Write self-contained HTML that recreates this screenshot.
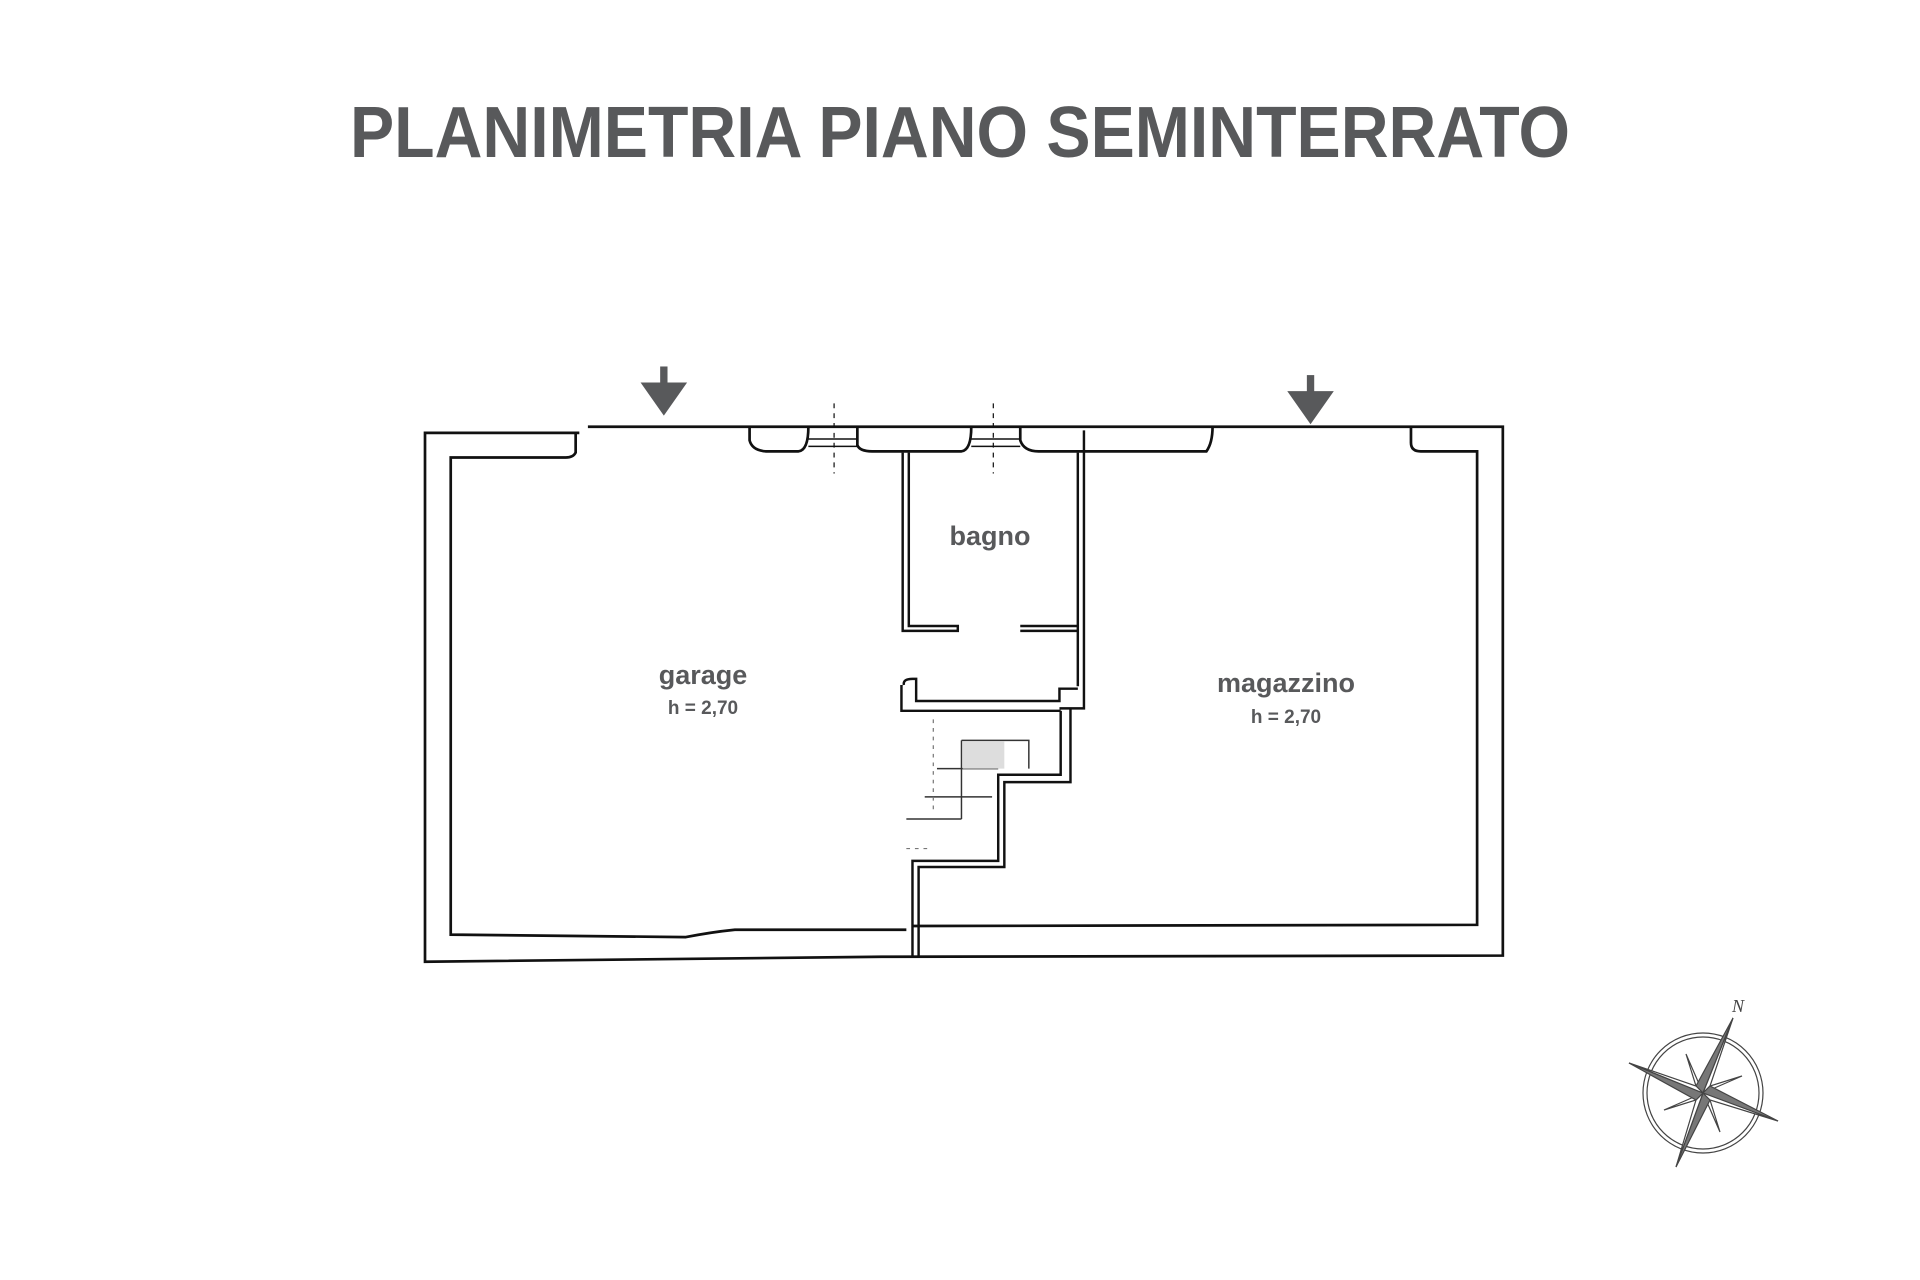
<!DOCTYPE html>
<html><head><meta charset="utf-8"><style>
html,body{margin:0;padding:0;background:#fff;}
svg{display:block}
</style></head><body>
<svg width="1920" height="1280" viewBox="0 0 1920 1280" xmlns="http://www.w3.org/2000/svg">
<rect width="1920" height="1280" fill="#fff"/>
<text x="960" y="157" text-anchor="middle" font-family="Liberation Sans, sans-serif" font-weight="bold" font-size="72" fill="#58595b" textLength="1220" lengthAdjust="spacingAndGlyphs">PLANIMETRIA PIANO SEMINTERRATO</text>
<g transform="scale(1.2248,1.2298)" fill="none" stroke="#111" stroke-width="2.2">
<path d="M473,352 L347,352 L347,782 L720,778 L1227,777 L1227,347 L480,347"/>
<path d="M470,352 L470,368 Q468,372 462,372 L368,372 L368,760 L560,762 Q580,758 600,756 L740,756"/>
<path d="M745,753 L1206,752 L1206,367 L1160,367 Q1152,367 1152,360 L1152,347"/>
<path d="M612,347 L612,358 Q614,366 625,367 L652,367 Q660,366 660,347"/>
<path d="M700,347 L700,362 Q702,367 712,367 L785,367 Q793,366 793,347"/>
<path d="M833,347 L833,358 Q836,367 848,367 L985,367 Q990,360 990,347"/>
<path d="M660,357 L700,357 M660,363 L700,363 M793,357 L833,357 M793,363 L833,363" stroke-width="1.2"/>
<path d="M681,328 L681,385 M811,328 L811,385" stroke-width="1" stroke-dasharray="4,4"/>
<path d="M737,368 L737,513 L782,513 L782,509 L742,509 L742,368" stroke-width="2"/>
<path d="M833,513 L880,513 M833,509 L880,509" stroke-width="2"/>
<path d="M880,368 L880,558 M885,350 L885,576 L865,576" stroke-width="2"/>
<path d="M738,557 Q737,552 745,552 L748,552 L748,570 L865,570 L865,560 L880,560 M736,557 L736,578 L866,578" stroke-width="2"/>
<path d="M866,578 L866,630 L815,630 L815,700 L745,700 L745,778 M874,576 L874,636 L820,636 L820,705 L750,705 L750,778" stroke-width="2"/>
<path d="M785,602 L840,602 L840,625 M785,602 L785,640 M765,625 L815,625 M755,648 L810,648 M740,666 L785,666 M785,640 L785,666" stroke-width="1.2" stroke="#333"/>
<path d="M762,585 L762,660 M740,690 L760,690" stroke-width="1" stroke="#777" stroke-dasharray="3,4"/>
<rect x="786" y="603" width="34" height="22" fill="#ddd" stroke="none"/>
<g fill="#58595b" stroke="none">
<rect x="539" y="298" width="6" height="14"/><path d="M523,311 L561,311 L542,338 Z"/>
<rect x="1067" y="305" width="6" height="14"/><path d="M1051,318 L1089,318 L1070,345 Z"/>
</g>
</g>
<g font-family="Liberation Sans, sans-serif" font-weight="bold" fill="#58595b" text-anchor="middle">
<text x="990" y="545" font-size="27">bagno</text>
<text x="703" y="684" font-size="27">garage</text>
<text x="703" y="714" font-size="19">h = 2,70</text>
<text x="1286" y="692" font-size="27">magazzino</text>
<text x="1286" y="723" font-size="19">h = 2,70</text>
</g>
<g transform="translate(-4,0)">
<g stroke="#444" stroke-width="1.2">
<circle cx="1707" cy="1093" r="60" fill="none"/>
<circle cx="1707" cy="1093" r="56" fill="none"/>
<path d="M1707,1093 L1690,1054 L1700,1086 Z M1707,1093 L1746,1076 L1714,1086 Z M1707,1093 L1724,1132 L1714,1100 Z M1707,1093 L1668,1110 L1700,1100 Z" fill="#fff"/>
<path d="M1737,1018 L1700,1086 L1707,1093 Z" fill="#777"/>
<path d="M1737,1018 L1714,1086 L1707,1093 Z" fill="#fff"/>
<path d="M1680,1167 L1714,1100 L1707,1093 Z" fill="#777"/>
<path d="M1680,1167 L1700,1100 L1707,1093 Z" fill="#fff"/>
<path d="M1633,1063 L1700,1100 L1707,1093 Z" fill="#777"/>
<path d="M1633,1063 L1700,1086 L1707,1093 Z" fill="#fff"/>
<path d="M1782,1121 L1714,1086 L1707,1093 Z" fill="#777"/>
<path d="M1782,1121 L1714,1100 L1707,1093 Z" fill="#fff"/>
</g>
<text x="1742" y="1012" font-family="Liberation Serif, serif" font-style="italic" font-size="18" fill="#444" text-anchor="middle">N</text>
</g>
</svg>
</body></html>
